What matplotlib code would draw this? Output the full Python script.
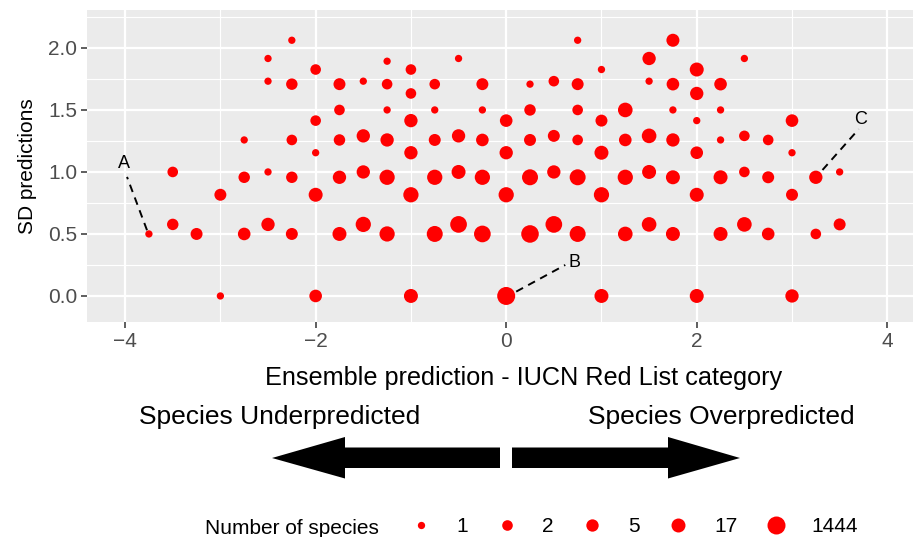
import numpy as np
import matplotlib
matplotlib.use("Agg")
import matplotlib.pyplot as plt
from matplotlib.lines import Line2D
from matplotlib.patches import Polygon

plt.rcParams["font.family"] = ["Liberation Sans", "DejaVu Sans"]

# ensemble prediction minus IUCN category, SD of predictions, number of species
ens_diff = [
    -2.25, 0.75, 1.75,
    -2.5, -0.5, 1.5, 2.5,
    -1.25,
    -2, -1, 1, 2,
    -2.5, -1.5, 0.5, 1.5,
    -2.25, -1.75, -1.25, -0.75, -0.25, 0.25, 0.75, 1.75, 2.25,
    -1, 2,
    -1.75, -1.25, -0.75, -0.25, 0.25, 0.75, 1.25, 1.75, 2.25,
    -2, -1, 0, 1, 2, 3,
    -1.5, -0.5, 0.5, 1.5, 2.5,
    -2.75, -2.25, -1.75, -1.25, -0.75, -0.25, 0.25, 0.75, 1.25, 1.75, 2.25, 2.75,
    -2, -1, 0, 1, 2, 3,
    -3.5, -2.5, -1.5, -0.5, 0.5, 1.5, 2.5, 3.5,
    -2.75, -2.25, -1.75, -1.25, -0.75, -0.25, 0.25, 0.75, 1.25, 1.75, 2.25, 2.75, 3.25,
    -3, -2, -1, 0, 1, 2, 3,
    -3.5, -2.5, -1.5, -0.5, 0.5, 1.5, 2.5, 3.5,
    -3.75, -3.25, -2.75, -2.25, -1.75, -1.25, -0.75, -0.25, 0.25, 0.75, 1.25, 1.75, 2.25, 2.75, 3.25,
    -3, -2, -1, 0, 1, 2, 3,
]
sd_pred = (
    [2.062] * 3 + [1.915] * 4 + [1.893] * 1 + [1.826] * 4 + [1.732] * 4
    + [1.708] * 9 + [1.633] * 2 + [1.5] * 9 + [1.414] * 6 + [1.291] * 5
    + [1.258] * 12 + [1.155] * 6 + [1.0] * 8 + [0.957] * 13 + [0.816] * 7
    + [0.577] * 8 + [0.5] * 15 + [0.0] * 7
)
n_species = [
    1, 1, 8,
    1, 1, 10, 1,
    1,
    2, 2, 1, 17,
    1, 1, 2, 1,
    3, 4, 2, 2, 4, 1, 4, 6, 6,
    2, 10,
    2, 1, 1, 1, 3, 2, 30, 1, 1,
    2, 10, 6, 4, 1, 6,
    10, 10, 4, 30, 2,
    1, 2, 3, 10, 4, 6, 4, 2, 6, 10, 1, 2,
    1, 10, 10, 17, 6, 1,
    2, 1, 10, 17, 10, 17, 2, 1,
    3, 3, 10, 55, 55, 55, 120, 120, 55, 17, 17, 4, 10,
    4, 17, 55, 55, 55, 17, 4,
    3, 10, 55, 270, 270, 30, 30, 4,
    1, 4, 6, 4, 17, 55, 120, 270, 800, 120, 30, 17, 17, 6, 2,
    1, 6, 17, 1444, 17, 17, 10,
]

legend_breaks = [1, 2, 5, 17, 1444]

# labelled points: text position and connector ends
lab_text = ["A", "B", "C"]
lab_x = [-4.01, 0.72, 3.72]
lab_y = [1.07, 0.27, 1.42]
seg_x0 = [-3.77, 0.105, 3.32]
seg_y0 = [0.53, 0.035, 1.016]
seg_x1 = [-3.98, 0.62, 3.70]
seg_y1 = [0.96, 0.25, 1.345]

W, H = 913, 537
RED = "#FF0000"


def dot_diam_pt(n):
    n = np.asarray(n, dtype=float)
    d_px = 7.3 + 10.7 * np.sqrt(np.log(n) / np.log(1444))
    return d_px * 0.72


fig = plt.figure(figsize=(W / 100, H / 100), dpi=100)
fig.patch.set_facecolor("white")

ax = fig.add_axes([87 / W, 1 - 322 / H, (913 - 87) / W, (322 - 10) / H])
ax.set_facecolor("#EBEBEB")
for sp in ax.spines.values():
    sp.set_visible(False)

ax.set_xlim(-4.40, 4.27)
ax.set_ylim(-0.21, 2.306)
ax.set_xticks([-4, -2, 0, 2, 4])
ax.set_xticklabels(["\u22124", "\u22122", "0", "2", "4"])
ax.set_xticks([-3, -1, 1, 3], minor=True)
ax.set_yticks([0, 0.5, 1.0, 1.5, 2.0])
ax.set_yticklabels(["0.0", "0.5", "1.0", "1.5", "2.0"])
ax.set_yticks([0.25, 0.75, 1.25, 1.75, 2.25], minor=True)
ax.grid(which="major", color="white", lw=1.6)
ax.grid(which="minor", color="white", lw=0.8)
ax.set_axisbelow(True)
ax.tick_params(which="major", length=4, width=1.1, color="#333333",
               labelcolor="#4D4D4D", labelsize=15, pad=3)
ax.tick_params(which="minor", length=0)

order = np.argsort(n_species)[::-1]
xs = np.array(ens_diff)[order]
ys = np.array(sd_pred)[order]
ns = np.array(n_species)[order]
ax.scatter(xs, ys, s=dot_diam_pt(ns) ** 2, color=RED, linewidths=0, zorder=3)

for t, tx, ty, x0, y0, x1, y1 in zip(lab_text, lab_x, lab_y, seg_x0, seg_y0, seg_x1, seg_y1):
    ax.plot([x0, x1], [y0, y1], color="black", lw=1.4, ls=(0, (4, 3)), zorder=4)
    ax.text(tx, ty, t, fontsize=13, ha="center", va="center", zorder=5)

ax.set_xlabel("Ensemble prediction - IUCN Red List category", fontsize=18.2)
ax.xaxis.set_label_coords(0.529, -0.14)
ax.set_ylabel("SD predictions", fontsize=15)
ax.yaxis.set_label_coords(-0.061, 0.5)

# bottom part: direction arrows and size legend
ov = fig.add_axes([0, 0, 1, 1])
ov.set_xlim(0, W)
ov.set_ylim(H, 0)
ov.axis("off")
ov.patch.set_alpha(0)

ov.text(279.5, 424, "Species Underpredicted", fontsize=19, ha="center", va="baseline")
ov.text(721, 424, "Species Overpredicted", fontsize=19, ha="center", va="baseline")

left_arrow = [(272, 458), (345, 437), (345, 447.5), (500, 447.5),
              (500, 468), (345, 468), (345, 478.5)]
right_arrow = [(740, 458), (668, 437), (668, 447.5), (512, 447.5),
               (512, 468), (668, 468), (668, 478.5)]
for pts in (left_arrow, right_arrow):
    ov.add_patch(Polygon(pts, closed=True, facecolor="black", edgecolor="none"))

ov.text(205, 534, "Number of species", fontsize=15, ha="left", va="baseline")

handles = [Line2D([], [], ls="", marker="o", color=RED, markeredgewidth=0,
                  markersize=float(dot_diam_pt(b))) for b in legend_breaks]
fig.legend(handles, [str(b) for b in legend_breaks], ncol=5, frameon=False,
           loc="center left", bbox_to_anchor=(408 / W, 1 - 527 / H),
           fontsize=15, handlelength=1.2, handletextpad=1.12, columnspacing=1.25,
           borderpad=0, borderaxespad=0, numpoints=1)

fig.savefig("out.png", dpi=100)
